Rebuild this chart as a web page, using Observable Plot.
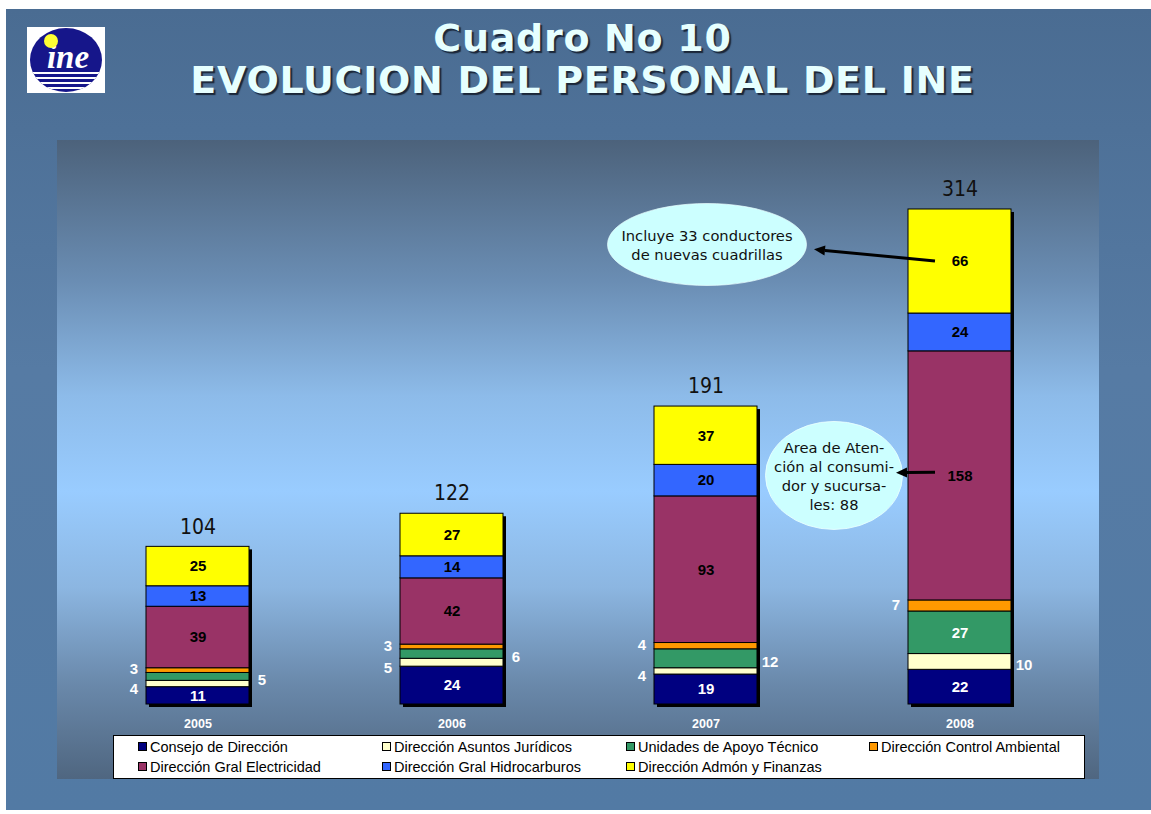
<!DOCTYPE html>
<html>
<head>
<meta charset="utf-8">
<script src="https://cdn.jsdelivr.net/npm/d3@7"></script>
<script src="https://cdn.jsdelivr.net/npm/@observablehq/plot@0.6"></script>
<style>
  body { margin:0; width:1151px; height:814px; background:#fff; overflow:hidden; font-family:"Liberation Sans", Arial, sans-serif; position:relative; }
  #slide { position:absolute; left:6px; top:9px; width:1145px; height:801px;
    background: linear-gradient(180deg, #4a6c92 0%, #567ba4 45%, #527aa4 100%); }
  .title { position:absolute; left:7px; width:1151px; text-align:center; font-family:"DejaVu Sans", Verdana, sans-serif;
    font-weight:bold; color:#e6ffff; font-size:38px; letter-spacing:0.7px; line-height:40px;
    text-shadow: 2px 2px 1px #1a2638; white-space:nowrap; }
  #logo { position:absolute; left:27px; top:27px; }
  #chart { position:absolute; left:57px; top:140px; width:1042px; height:639px;
    background: linear-gradient(180deg, #4c627b 0%, #6a8db3 22%, #8dbbe9 40%, #99ccff 55%, #8cb6e1 70%, #6a89ab 85%, #4f6680 100%); }
  #chart svg { position:absolute; left:0; top:0; }
  #legend { position:absolute; left:56px; top:595px; width:970px; height:42px; background:#fff; border:1px solid #000; }
  .item { position:absolute; font-size:14.5px; color:#000; white-space:nowrap; line-height:16px; }
  .sw { display:inline-block; width:7px; height:7px; border:1px solid #000; margin-right:3px; vertical-align:1px; }
</style>
</head>
<body>
<div id="slide"></div>
<svg id="logo" width="78" height="66" viewBox="0 0 78 66">
  <defs><clipPath id="lc"><ellipse cx="39" cy="33" rx="36" ry="32"/></clipPath></defs>
  <rect width="78" height="66" fill="#fff"/>
  <ellipse cx="39" cy="33" rx="36" ry="32" fill="#16168a"/>
  <g clip-path="url(#lc)" stroke="#fff" stroke-width="1.8">
    <line x1="0" x2="78" y1="46" y2="46"/><line x1="0" x2="78" y1="51" y2="51"/>
    <line x1="0" x2="78" y1="56" y2="56"/><line x1="0" x2="78" y1="61" y2="61"/>
  </g>
  <text x="41" y="41" text-anchor="middle" font-family="Liberation Serif" font-style="italic" font-weight="bold" font-size="33" fill="#fff">ine</text>
  <circle cx="24" cy="14" r="7" fill="#ffff33"/>
</svg>
<div class="title" style="top:18px">Cuadro No 10</div>
<div class="title" style="top:60px">EVOLUCION DEL PERSONAL DEL INE</div>
<div id="chart"><div id="legend"></div></div>
<script>
// ---- data ----
const years = ["2005", "2006", "2007", "2008"];
const categories = [
  "Consejo de Dirección",
  "Dirección Asuntos Jurídicos",
  "Unidades de Apoyo Técnico",
  "Dirección Control Ambiental",
  "Dirección Gral Electricidad",
  "Dirección Gral Hidrocarburos",
  "Dirección Admón y Finanzas"
];
const colors = ["#000080", "#ffffcc", "#339966", "#ff9900", "#993366", "#3366ff", "#ffff00"];
const consejo       = [11, 24, 19, 22];
const juridicos     = [4, 5, 4, 10];
const apoyo         = [5, 6, 12, 27];
const control       = [3, 3, 4, 7];
const electricidad  = [39, 42, 93, 158];
const hidrocarburos = [13, 14, 20, 24];
const admon         = [25, 27, 37, 66];
const totals        = [104, 122, 191, 314];
const noteTexts = ["Incluye 33 conductores\nde nuevas cuadrillas", "Area de Aten-\nción al consumi-\ndor y sucursa-\nles: 88"];

// ---- fonts ----
function hasFont(f) {
  const c = document.createElement("canvas").getContext("2d");
  const t = "abcdefghijklmnopqrstuvwxyz0123456789ABCDEF";
  c.font = "40px monospace"; const a = c.measureText(t).width;
  c.font = `40px '${f}', monospace`; return c.measureText(t).width !== a;
}
const narrow = hasFont("Liberation Sans Narrow");
const segFont = narrow ? "'Liberation Sans Narrow', 'Liberation Sans', Arial" : "'Liberation Sans', Arial, sans-serif";
const segSize = narrow ? 16 : 15;
const yearSize = narrow ? 14.5 : 12.5;
const condensed = hasFont("DejaVu Sans Condensed");
const totFont = condensed ? "'DejaVu Sans Condensed', 'DejaVu Sans'" : "'DejaVu Sans', Verdana";
const totSize = condensed ? 21 : 19;

// ---- tables ----
const series = [consejo, juridicos, apoyo, control, electricidad, hidrocarburos, admon];
const rows = [];
years.forEach((yr, i) => categories.forEach((c, j) => rows.push({year: yr, category: c, value: series[j][i]})));
const tops = years.map((yr, i) => ({year: yr, top: d3.sum(series, s => s[i]), total: totals[i]}));

function side(d) {
  if (d.category === categories[3]) return "leftTop";
  if (d.category === categories[1]) return d.year === "2008" ? "right" : "leftBottom";
  if (d.category === categories[2]) return d.year === "2008" ? "in" : "right";
  return "in";
}
const whiteInside = new Set([categories[0], categories[2]]);
const st = {x: "year", y: "value", z: "category", order: categories};
const segText = (pred, opts) => Plot.text(rows, Plot.stackY({...st,
  text: d => pred(d) ? String(d.value) : "",
  fontWeight: "bold", fontSize: segSize, fontFamily: segFont, ...opts}));

const last = years[years.length - 1];
const note1 = [{year: last, y: 291.8, text: noteTexts[0]}];
const note2 = [{year: last, y: 145.3, text: noteTexts[1]}];
const noteStyle = {fill: "#ccffff", stroke: "#e9ffff", strokeWidth: 1};
const noteTextStyle = {text: "text", fontFamily: "'DejaVu Sans', Verdana", fontSize: 14.7, lineHeight: 1.29, fill: "#111"};

const plot = Plot.plot({
  width: 1042, height: 595,
  marginLeft: 0, marginRight: 0, marginTop: 28, marginBottom: 31,
  style: {background: "transparent", fontFamily: segFont, overflow: "visible"},
  x: {domain: years, paddingInner: 0.596, paddingOuter: 0.344, axis: null},
  y: {domain: [0, 340], axis: null},
  color: {domain: categories, range: colors},
  marks: [
    Plot.barY(tops, {x: "year", y: "top", fill: "black", dx: 3, dy: 3}),
    Plot.barY(rows, {...st, fill: "category", stroke: "black", strokeWidth: 1}),
    segText(d => side(d) === "in" && !whiteInside.has(d.category), {fill: "black"}),
    segText(d => side(d) === "in" && whiteInside.has(d.category), {fill: "white"}),
    segText(d => side(d) === "leftTop", {fill: "white", dx: -64, dy: -1}),
    segText(d => side(d) === "leftBottom", {fill: "white", dx: -64, dy: 5}),
    segText(d => side(d) === "right", {fill: "white", dx: 64, dy: 3}),
    Plot.text(tops, {x: "year", y: "top", text: "total", dy: -20, fontSize: totSize, fontFamily: totFont, fill: "#111"}),
    Plot.axisX({tickSize: 0, tickPadding: 15, fill: "white", fontWeight: "bold", fontSize: yearSize, fontFamily: segFont, label: null}),
    Plot.dot(note1, {x: "year", y: "y", dx: -253, r: 99.5, ...noteStyle}),
    Plot.dot(note2, {x: "year", y: "y", dx: -126, r: 68.5, ...noteStyle}),
    Plot.text(note1, {x: "year", y: "y", dx: -253, ...noteTextStyle}),
    Plot.text(note2, {x: "year", y: "y", dx: -126, ...noteTextStyle})
  ]
});
document.getElementById("chart").prepend(plot);

// ellipses: squash the note circles vertically
const ratios = [41 / 99.5, 54 / 68.5];
d3.select(plot).selectAll("g[aria-label=dot]").each(function(_, i) {
  d3.select(this).selectAll("circle").each(function() {
    const c = d3.select(this);
    let cx = +c.attr("cx") || 0, cy = +c.attr("cy") || 0;
    const tr = c.attr("transform");
    if (tr && !c.attr("cx")) {
      const m = /translate\(([-\d.]+),\s*([-\d.]+)\)/.exec(tr);
      if (m) { cx = +m[1]; cy = +m[2]; }
      c.attr("transform", `translate(${cx},${cy}) scale(1,${ratios[i]})`);
    } else {
      c.attr("transform", `translate(${cx},${cy}) scale(1,${ratios[i]}) translate(${-cx},${-cy})`);
    }
  });
});

// arrows from the 2008 labels to the notes
const xs = plot.scale("x"), ys = plot.scale("y");
const xc = xs.apply(last) + xs.bandwidth / 2;
const arrows = [
  {x1: xc - 24.5, y1: ys.apply(281), x2: xc - 145.5, y2: ys.apply(288.4)},
  {x1: xc - 24.5, y1: ys.apply(147), x2: xc - 63.5, y2: ys.apply(146.7)}
];
const ga = d3.select(plot).append("g");
arrows.forEach(a => {
  const ang = Math.atan2(a.y2 - a.y1, a.x2 - a.x1);
  const L = 11, Wd = 5;
  const bx = a.x2 - L * Math.cos(ang), by = a.y2 - L * Math.sin(ang);
  ga.append("line").attr("x1", a.x1).attr("y1", a.y1).attr("x2", bx).attr("y2", by)
    .attr("stroke", "#000").attr("stroke-width", 3);
  ga.append("polygon").attr("fill", "#000").attr("points", [
    [a.x2, a.y2],
    [bx + Wd * Math.sin(ang), by - Wd * Math.cos(ang)],
    [bx - Wd * Math.sin(ang), by + Wd * Math.cos(ang)]
  ].map(p => p.join(",")).join(" "));
});

// legend
const colX = [24, 268, 512, 755];
const legend = d3.select("#legend");
categories.forEach((c, i) => {
  const r = Math.floor(i / 4), k = i % 4;
  const it = legend.append("div").attr("class", "item")
    .style("left", colX[k] + "px").style("top", (3 + r * 20) + "px");
  it.append("span").attr("class", "sw").style("background", colors[i]);
  it.append("span").text(c);
});
</script>
</body>
</html>
